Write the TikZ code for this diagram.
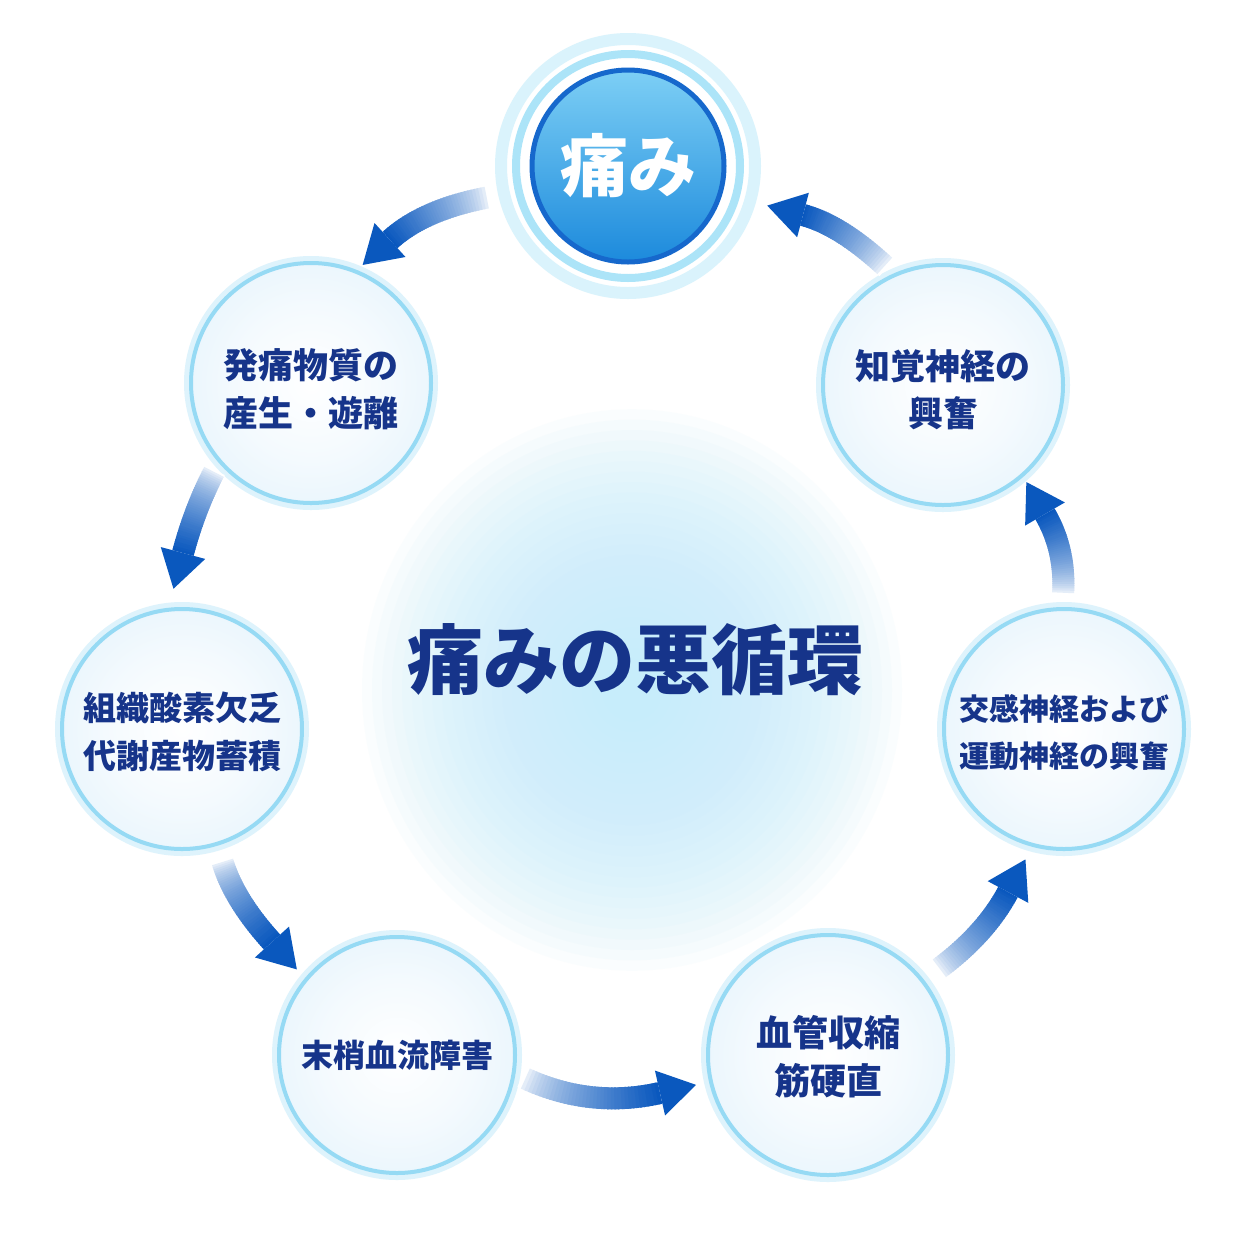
\documentclass[tikz,border=0pt]{standalone}
\usepackage{fontspec}
\setmainfont{Noto Sans CJK JP}
\usepackage{tikz}
\usetikzlibrary{calc,shapes.geometric}
\definecolor{navytext}{RGB}{22,52,138}
\definecolor{bubbleedge}{RGB}{150,218,244}
\definecolor{bubbleglow}{RGB}{222,243,252}
\definecolor{bubblemid}{RGB}{244,250,254}
\definecolor{bubbleouter}{RGB}{226,242,251}
\definecolor{painlight}{RGB}{125,207,245}
\definecolor{paindark}{RGB}{28,138,220}
\definecolor{painrim}{RGB}{22,104,204}
\definecolor{ringmid}{RGB}{172,228,248}
\definecolor{ringouter}{RGB}{218,243,252}
\definecolor{glowcyan}{RGB}{196,237,251}
\definecolor{arrowblue}{RGB}{10,88,190}
\pgfdeclareradialshading{bubble}{\pgfpoint{0bp}{0bp}}{color(0bp)=(white); color(16bp)=(bubblemid); color(35bp)=(bubbleouter); color(50bp)=(bubbleouter)}

% curved arrow, fading from the tail: tail, bend point, head base
\newcommand{\cyclearrow}[3]{%
  \foreach \k in {0,...,39}{%
    \pgfmathsetmacro\ta{\k/40}%
    \pgfmathsetmacro\tb{min(1,(\k+1.5)/40)}%
    \pgfmathtruncatemacro\shadepct{100*(\k/39)^0.6}%
    \draw[shaft, arrowblue!\shadepct!white]
      ($($(#1)!\ta!(#2)$)!\ta!($(#2)!\ta!(#3)$)$) --
      ($($(#1)!\tb!(#2)$)!\tb!($(#2)!\tb!(#3)$)$);
  }%
  \fill[head] (#3) -- ($(#3)!23pt!90:(#2)$) -- ($(#3)!37pt!180:(#2)$)
    -- ($(#3)!23pt!-90:(#2)$) -- cycle;
}

\begin{document}
\begin{tikzpicture}[
    x=1pt, y=-1pt,
    stage/.style={circle, shade, shading=bubble, draw=bubbleedge, line width=4pt,
        preaction={draw=bubbleglow, line width=14pt},
        minimum size=240pt, inner sep=0pt},
    stagetext/.style={text=navytext, align=center, yshift=-6pt,
        font=\bfseries\fontsize{33}{48}\selectfont},
    painnode/.style={circle, top color=painlight, bottom color=paindark,
        draw=painrim, line width=5pt, minimum size=192pt, inner sep=0pt,
        text=white, font=\bfseries\fontsize{68}{68}\selectfont},
    painring/.style={draw=ringmid, line width=8pt},
    centertitle/.style={text=navytext, font=\bfseries\fontsize{76}{76}\selectfont},
    glowdisc/.style={fill=glowcyan, opacity=0.075},
    shaft/.style={line width=22pt},
    head/.style={fill=arrowblue}
]
    \fill[white] (0,0) rectangle (1254,1254);
    % soft glow behind the title
    \foreach \r in {270,260,...,30}
        \fill[glowdisc] (632,690) ellipse [x radius=\r, y radius=\r*1.04];

    % Pain at the top
    \node[painnode] (pain) at (628,166) {痛み};
    \draw[painring] (pain.center) circle[radius=112];
    \draw[draw=ringouter, line width=12pt] (pain.center) circle[radius=127];

    % Stages of the cycle
    \node[stage, label={[stagetext, font=\bfseries\fontsize{35}{48}\selectfont]center:{発痛物質の\\産生・遊離}}] (release) at (311,383) {};
    \node[stage, label={[stagetext, yshift=3pt]center:{組織酸素欠乏\\代謝産物蓄積}}] (hypoxia) at (182,729) {};
    \node[stage, minimum size=236pt, label={[stagetext, yshift=6pt, font=\bfseries\fontsize{32}{48}\selectfont]center:{末梢血流障害}}] (bloodflow) at (397,1055) {};
    \node[stage, label={[stagetext, yshift=4pt, font=\bfseries\fontsize{36}{48}\selectfont]center:{血管収縮\\筋硬直}}] (spasm) at (828,1055) {};
    \node[stage, label={[stagetext, yshift=2pt, font=\bfseries\fontsize{30}{47}\selectfont]center:{交感神経および\\運動神経の興奮}}] (motor) at (1064,729) {};
    \node[stage, label={[stagetext, yshift=1pt, font=\bfseries\fontsize{35}{47}\selectfont]center:{知覚神経の\\興奮}}] (sensory) at (943,385) {};

    % Title
    \node[centertitle] (cycle) at (635,660) {痛みの悪循環};

    % Arrow ends
    \coordinate (painout) at (490,197);
    \coordinate (releasein) at (390,240);
    \coordinate (releaseout) at (215,470);
    \coordinate (hypoxiain) at (183,553);
    \coordinate (hypoxiaout) at (222,860);
    \coordinate (bloodflowin) at (272,942);
    \coordinate (bloodflowout) at (522,1077);
    \coordinate (spasmin) at (660,1093);
    \coordinate (spasmout) at (937,970);
    \coordinate (motorin) at (1008,892);
    \coordinate (motorout) at (1063,595);
    \coordinate (sensoryin) at (1045,514);
    \coordinate (sensoryout) at (887,268);
    \coordinate (painin) at (803,215);

    % Arrows
    \cyclearrow{painout}{424,209}{releasein}
    \cyclearrow{releaseout}{195,508}{hypoxiain}
    \cyclearrow{hypoxiaout}{233,899}{bloodflowin}
    \cyclearrow{bloodflowout}{589,1109}{spasmin}
    \cyclearrow{spasmout}{985,935}{motorin}
    \cyclearrow{motorout}{1066,550}{sensoryin}
    \cyclearrow{sensoryout}{841,225}{painin}
\end{tikzpicture}
\end{document}
